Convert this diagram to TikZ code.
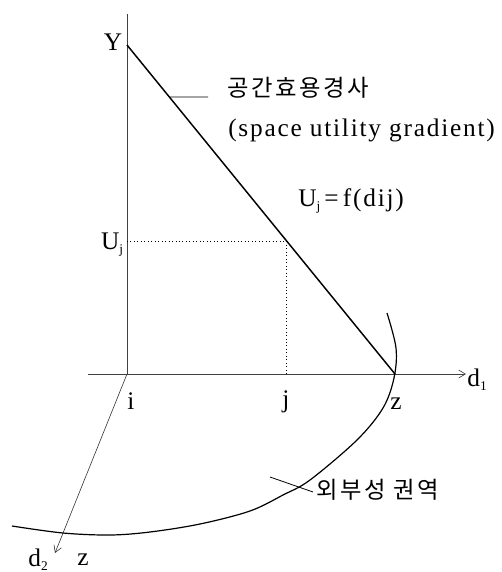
\documentclass[tikz,border=0pt]{standalone}
\usepackage{fontspec}
\setmainfont{Liberation Serif}
\newfontfamily\kor[LetterSpace=11]{Noto Sans CJK KR}
\usetikzlibrary{arrows.meta}
\newcommand{\mysub}[1]{\raisebox{-3pt}{\fontsize{10}{10}\selectfont #1}}
\tikzset{
  lbl/.style={inner sep=0pt, font=\fontsize{19}{22}\selectfont},
  txt/.style={inner sep=0pt, anchor=base west, font=\fontsize{19}{22}\selectfont\addfontfeatures{LetterSpace=7}},
  ktxt/.style={inner sep=0pt, anchor=base west, font=\fontsize{17.5}{20}\selectfont\kor},
  axis/.style={line width=0.5pt, draw=black!75},
  thin/.style={line width=0.45pt, draw=black!80},
  grad/.style={line width=1.1pt},
  guide/.style={line width=0.6pt, dotted},
  tip/.style={-{Straight Barb[length=5pt,width=6pt]}}
}
\begin{document}
\begin{tikzpicture}[x=0.75pt,y=-0.75pt]
\useasboundingbox (0,0) rectangle (501,572);
% key points
\coordinate (O) at (127,374);
\coordinate (Ytop) at (127,14);
\coordinate (Y) at (127,45);
\coordinate (Z) at (395,374);
\coordinate (J) at (286,374);
\coordinate (UJ) at (127,241);
\coordinate (P) at (286,241);
\coordinate (Xs) at (88,374);
\coordinate (D1) at (466,374);
\coordinate (D2) at (55,553);
\coordinate (L1b) at (208,97);
\coordinate (L2a) at (270,477);
\coordinate (L2b) at (313,492);
% axes
\draw[axis] (Ytop) -- (O);
\draw[axis,tip] (Xs) -- (D1);
\draw[thin,tip] (O) -- (D2);
% gradient line
\draw[grad] (Y) -- (Z) coordinate[pos=0.158] (L1a);
% dotted guides
\draw[guide] (UJ) -- (P) -- (J);
% leader lines
\draw[line width=0.6pt] (L1a) -- (L1b);
\draw[line width=0.6pt] (L2a) -- (L2b);
% externality boundary
\draw[line width=0.9pt] plot[smooth, tension=0.55] coordinates {(387,313) (396,348) (394,378) (383,408) (357,440) (310,480) (283,495) (250,511) (200,524) (150,532) (110,535) (63,533) (12,526)};
% labels
\node[lbl] (nY) at (113,42) {Y};
\node[lbl] (nU) at (112,245) {U\mysub{j}};
\node[lbl] (ni) at (131,401) {i};
\node[lbl] (nj) at (286,402) {j};
\node[lbl] (nz) at (396,404) {z};
\node[lbl] (nd1) at (477,380) {d\mysub{1}};
\node[lbl] (nd2) at (38,560) {d\mysub{2}};
\node[lbl] (nz2) at (83,560) {z};
\node[ktxt] (k1) at (227,96) {공간효용경사};
\node[txt] (e1) at (228,136) {(space utility gradient)};
\node[txt] (f1) at (298,206) {U\mysub{j}\,=\,f(dij)};
\node[ktxt] (k2) at (316,498) {외부성 권역};
\end{tikzpicture}
\end{document}
